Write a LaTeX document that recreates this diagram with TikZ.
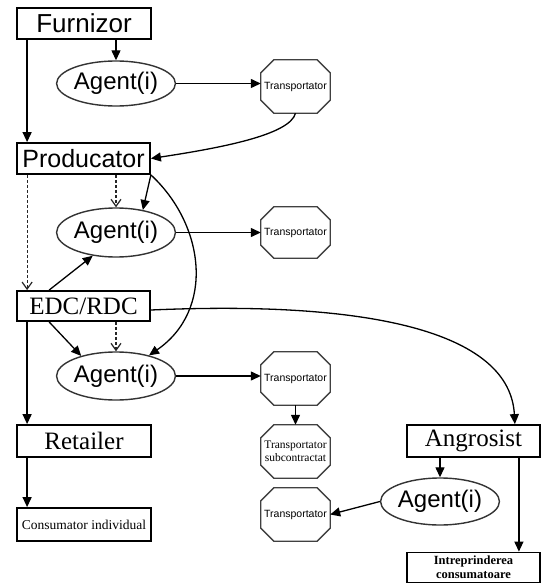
\documentclass[tikz,border=0pt]{standalone}
\usepackage{fontspec}
\setmainfont{Liberation Serif}
\setsansfont{Liberation Sans}
\usetikzlibrary{arrows.meta,shapes.geometric}
\tikzset{
  boxnode/.style={draw=black, line width=1.8pt, rectangle, inner sep=0pt, minimum width=133pt},
  ellnode/.style={draw=black!80, line width=1.4pt, ellipse, inner sep=0pt, minimum width=111pt, minimum height=47pt,
     font=\sffamily\fontsize{24}{26}\selectfont},
  octnode/.style={inner sep=0pt, minimum width=69pt, minimum height=53pt, align=center},
  octline/.style={draw=black!75, line width=1.3pt},
  sanslabel/.style={font=\sffamily\fontsize{25}{27}\selectfont},
  seriflabel/.style={font=\rmfamily\fontsize{25}{27}\selectfont},
  arr/.style={draw=black, line width=1.3pt, -{Triangle[length=10pt,width=9pt]}},
  dasharr/.style={draw=black!85, line width=1.2pt, dash pattern=on 3pt off 2pt, -{Straight Barb[length=7pt,width=10pt]}},
  tsmall/.style={font=\sffamily\fontsize{10.5}{12}\selectfont},
}
\begin{document}
\begin{tikzpicture}[x=1pt,y=-1pt]
\useasboundingbox[fill=white] (0,0) rectangle (541,583);
% nodes
\node[boxnode, font=\sffamily\fontsize{26}{28}\selectfont, minimum height=31pt, minimum width=134pt] (F) at (84,23.5) {Furnizor};
\node[ellnode, minimum height=45pt] (A1) at (116,83.5) {Agent(i)};
\node[octnode, tsmall] (T1) at (295.5,86.5) {Transportator};
\node[boxnode, sanslabel, minimum height=31pt] (P) at (83.5,158.5) {Producator};
\node[ellnode, minimum height=49pt] (A2) at (116,232.5) {Agent(i)};
\node[octnode, tsmall, minimum height=51pt] (T2) at (295.5,232.5) {Transportator};
\node[boxnode, seriflabel, minimum height=30pt] (E) at (83.5,306) {EDC/RDC};
\node[ellnode, minimum height=48pt] (A3) at (116,376) {Agent(i)};
\node[octnode, tsmall] (T3) at (295.5,378.5) {Transportator};
\node[octnode, font=\rmfamily\fontsize{11.5}{12.5}\selectfont] (TS) at (295.5,451.5) {Transportator\\subcontractat};
\node[octnode, tsmall] (T4) at (295.5,514.5) {Transportator};
\node[boxnode, seriflabel, minimum height=32pt, minimum width=134pt] (R) at (84,441) {Retailer};
\node[boxnode, font=\rmfamily\fontsize{13.5}{15}\selectfont, minimum height=33pt, minimum width=134pt] (C) at (84,524.5) {Consumator individual};
\node[boxnode, seriflabel, minimum height=32pt] (G) at (473.5,441) {Angrosist};
\node[ellnode, minimum width=114pt, minimum height=47pt] (A4) at (440,501.5) {Agent(i)};
\node[boxnode, align=center, font=\rmfamily\bfseries\fontsize{12.5}{14}\selectfont, minimum height=30pt] (I) at (473.5,567.5) {Intreprinderea\\consumatoare};
% octagons
\foreach \n in {T1,T2,T3,TS,T4}
  \draw[octline] ([xshift=13pt]\n.north west) -- ([xshift=-13pt]\n.north east)
     -- ([yshift=-13pt]\n.north east) -- ([yshift=13pt]\n.south east)
     -- ([xshift=-13pt]\n.south east) -- ([xshift=13pt]\n.south west)
     -- ([yshift=13pt]\n.south west) -- ([yshift=-13pt]\n.north west) -- cycle;
% connectors
\draw[arr] (A1.north |- F.south) -- (A1.north);
\draw[arr] ([xshift=11pt]F.south west) -- ([xshift=11pt]P.north west);
\draw[arr] (A1.east) -- (A1.east -| T1.west);
\draw[arr] (T1.south) .. controls (290,135) and (220,148) .. (P.east);
\draw[dasharr] ([xshift=11pt]P.south west) -- ([xshift=11pt]E.north west);
\draw[dasharr] (A2.north |- P.south) -- (A2.north);
\draw[arr] (P.south east) -- (A2.40);
\draw[arr] (P.south east) .. controls (205,225) and (215,310) .. (A3.32);
\draw[arr] (A2.east) -- (A2.east -| T2.west);
\draw[arr] ([xshift=33pt]E.north west) -- (A2.225);
\draw[arr] ([xshift=33pt]E.south west) -- (A3.150);
\draw[dasharr] (A3.north |- E.south) -- (A3.north);
\draw[arr] ([yshift=-4pt]E.east) .. controls (380,300) and (510,335) .. ([xshift=-26pt]G.north east);
\draw[arr] ([xshift=11pt]E.south west) -- ([xshift=11pt]R.north west);
\draw[arr] ([xshift=11pt]R.south west) -- ([xshift=11pt]C.north west);
\draw[arr] (A3.east) -- (A3.east -| T3.west);
\draw[arr] (T3.south) -- (TS.north);
\draw[arr] (A4.north |- G.south) -- (A4.north);
\draw[arr] ([xshift=-22pt]G.south east) -- ([xshift=-22pt]I.north east);
\draw[arr] (A4.west) -- (T4.east);
\end{tikzpicture}
\end{document}
